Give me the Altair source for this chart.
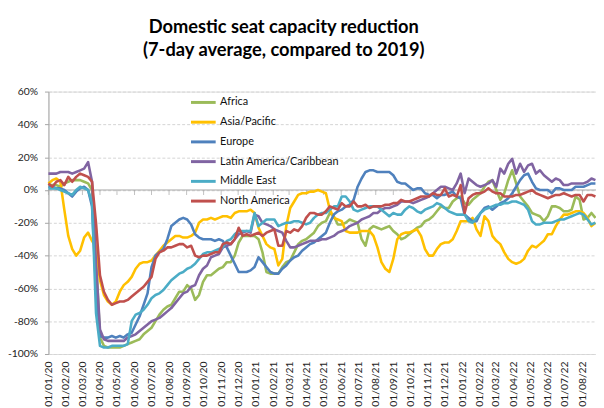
import altair as alt
import pandas as pd

series_names = ["Africa", "Asia/Pacific", "Europe", "Latin America/Caribbean", "Middle East", "North America"]
series_colors = ["#9BBB59", "#FFC000", "#4F81BD", "#8064A2", "#4BACC6", "#C0504D"]

# weekly observation dates (7-day average), 2020-01-01 .. 2022-08-24
dates = [d.strftime("%Y-%m-%d") for d in pd.date_range("2020-01-01", periods=139, freq="7D")]
# monthly tick positions on the category axis
month_ticks = [d.strftime("%Y-%m-%d") for d in pd.date_range("2020-01-01", "2022-08-01", freq="MS")]
y_ticks = [-100, -80, -60, -40, -20, 0, 20, 40, 60]

africa = [
    3, 3, 3, 2, 4, 5, 6, 6, 6, 5,
    4, 0, -40, -90, -95, -96, -96, -96, -96, -95,
    -94, -93, -92, -91, -88, -86, -84, -80, -76, -73,
    -71, -70, -66, -62, -62, -58, -60, -67, -64, -56,
    -52, -52, -50, -48, -47, -44, -44, -40, -32, -28,
    -28, -28, -28, -30, -38, -50, -51, -51, -51, -47,
    -44, -43, -38, -33, -31, -30, -28, -26, -22, -20,
    -19, -14, -16, -21, -21, -20, -18, -19, -20, -30,
    -34, -24, -22, -23, -24, -23, -22, -25, -27, -30,
    -29, -27, -25, -23, -22, -19, -18, -16, -13, -10,
    -11, -11, -7, -5, -4, -8, -9, -6, -4, -2,
    2, 5, 6, 0, -6, -2, 6, 12, 4, -4,
    -7, -10, -14, -15, -16, -19, -16, -10, -10, -11,
    -13, -13, -12, -4, -6, -18, -17, -14, -17,
]
asia_pacific = [
    4, 6, 7, 5, -12, -28, -36, -40, -37, -29,
    -26, -31, -35, -55, -64, -68, -70, -68, -62, -58,
    -56, -53, -48, -45, -44, -44, -43, -40, -37, -34,
    -32, -30, -28, -28, -29, -29, -28, -26, -20, -18,
    -18, -17, -18, -17, -16, -16, -17, -14, -13, -13,
    -13, -12, -14, -23, -28, -33, -35, -36, -46, -42,
    -22, -11, -7, -3, -2, -2, -1, -1, 0, -1,
    -2, -12, -17, -18, -19, -25, -26, -26, -26, -25,
    -25, -25, -28, -35, -44, -48, -50, -42, -30, -27,
    -26, -26, -25, -24, -28, -36, -40, -40, -36, -33,
    -32, -32, -30, -25, -19, -19, -19, -17, -24, -28,
    -16, -19, -28, -31, -33, -38, -42, -44, -45, -44,
    -42, -37, -34, -35, -33, -31, -27, -27, -22, -18,
    -15, -15, -14, -13, -13, -14, -17, -22, -20,
]
europe = [
    2, 2, 1, 1, 0, -2, -4, -1, 1, 2,
    0, -10, -60, -89, -90, -90, -89, -90, -89, -90,
    -88, -87, -82, -77, -70, -63, -47, -40, -38, -36,
    -30, -22, -20, -18, -17, -18, -21, -27, -29, -30,
    -30, -30, -31, -30, -31, -35, -40, -45, -50, -50,
    -50, -49, -47, -41, -44, -47, -50, -51, -51, -48,
    -46, -43, -41, -40, -37, -35, -33, -32, -30, -28,
    -26, -20, -15, -13, -12, -10, -9, -6, 2, 7,
    11, 12, 12, 11, 11, 11, 11, 9, 5, 4,
    4, 2, 0, 1, 1, -2, -3, -3, -5, -3,
    -3, -2, -1, -4, -5, -15, -17, -19, -19, -14,
    -11, -10, -12, -10, -8, -7, -5, -2, 2, 6,
    9, 10, 5, 1, 0, 0, 0, -2, 1, 1,
    0, 0, 0, 2, 2, 2, 3, 4, 4,
]
latin_america = [
    10, 10, 10, 11, 11, 11, 10, 11, 12, 13,
    17, 5, -45, -85, -91, -92, -92, -92, -92, -92,
    -90, -89, -88, -86, -84, -82, -80, -79, -78, -76,
    -74, -72, -69, -66, -63, -62, -59, -58, -52, -48,
    -46, -41, -40, -39, -35, -34, -33, -30, -27, -26,
    -25, -26, -15, -16, -20, -21, -22, -24, -25, -26,
    -31, -35, -35, -34, -33, -32, -31, -31, -31, -30,
    -30, -29, -28, -26, -25, -24, -22, -21, -20, -18,
    -17, -16, -14, -14, -12, -11, -11, -10, -9, -7,
    -7, -7, -8, -7, -6, -5, -4, -2, 0, 2,
    2, 1, 0, 4, 10, -2, 7, 5, 3, 2,
    3, 4, 6, 2, 13, 10, 16, 19, 10, 16,
    11, 15, 16, 10, 12, 9, 7, 5, 7, 6,
    3, 3, 4, 4, 4, 4, 5, 7, 6,
]
middle_east = [
    1, 1, 1, 0, -1, -2, -3, 0, 2, 1,
    0, -8, -75, -95, -96, -96, -95, -95, -95, -95,
    -94, -80, -76, -75, -73, -70, -66, -64, -63, -61,
    -58, -55, -53, -51, -50, -48, -47, -45, -42, -39,
    -38, -38, -37, -36, -35, -31, -30, -27, -25, -25,
    -25, -25, -14, -22, -20, -18, -18, -18, -22, -21,
    -20, -20, -19, -19, -20, -21, -20, -17, -15, -14,
    -14, -12, -10, -10, -4, -4, -7, -12, -13, -12,
    -11, -10, -10, -10, -12, -14, -16, -14, -15, -15,
    -12, -10, -11, -13, -14, -12, -11, -10, -8, -9,
    -11, -13, -14, -15, -15, -15, -19, -20, -17, -14,
    -12, -11, -10, -9, -9, -8, -8, -7, -7, -8,
    -9, -12, -19, -21, -21, -20, -20, -20, -19, -18,
    -18, -17, -16, -15, -14, -15, -18, -21, -20,
]
north_america = [
    4, 2, 5, 6, 3, 8, 5, 8, 10, 9,
    8, 5, -20, -52, -62, -67, -70, -69, -68, -68,
    -67, -65, -63, -61, -59, -56, -53, -42, -38, -37,
    -35, -35, -34, -33, -33, -35, -34, -40, -41, -40,
    -40, -39, -38, -38, -33, -32, -33, -30, -23, -28,
    -27, -28, -27, -26, -28, -26, -25, -24, -34, -34,
    -25, -26, -24, -25, -22, -17, -14, -14, -15, -15,
    -13, -10, -11, -12, -8, -10, -10, -7, -10, -10,
    -9, -11, -10, -10, -10, -9, -9, -8, -8, -6,
    -7, -7, -6, -5, -4, -4, -4, -2, -3, -3,
    1, -4, -3, -4, 3, -14, -5, -3, -2, -2,
    -1, 1, -1, -2, -2, -4, -4, -4, -3, -3,
    -2, -1, 0, -2, -3, -4, -5, -4, -3, -3,
    -2, -3, -4, -3, -3, -7, -3, -3, -4,
]

values_by_series = [africa, asia_pacific, europe, latin_america, middle_east, north_america]
rows = []
for name, vals in zip(series_names, values_by_series):
    for d, v in zip(dates, vals):
        rows.append({"date": d, "series": name, "value": v})
df = pd.DataFrame(rows)
ticks_df = pd.DataFrame({"date": month_ticks})

FONT = "Lato"
AXIS_GRAY = "#a6a6a6"

x_enc = alt.X(
    "date:T",
    scale=alt.Scale(
        type="utc",
        domain=[alt.DateTime(year=2020, month=1, date=1, utc=True),
                alt.DateTime(year=2022, month=8, date=25, utc=True)],
    ),
    axis=alt.Axis(
        title=None,
        labelExpr="utcFormat(datum.value, '%d/%m/%y')",
        tickCount={"interval": "month", "step": 1},
        labelAngle=270, labelAlign="right", labelBaseline="middle",
        labelPadding=7, labelFlush=False, labelOverlap=False,
        domain=False, ticks=False, grid=False,
        labelFont=FONT, labelFontSize=10.5, labelColor="#222222",
    ),
)

y_scale = alt.Scale(domain=[-100, 60], nice=False, zero=False)
y_axis = alt.Axis(
    title=None, values=y_ticks, labelExpr="datum.value + '%'", labelOverlap=False,
    grid=True, gridColor="#d4d4d4", gridDash=[3, 2], gridWidth=1,
    domain=True, domainColor=AXIS_GRAY, ticks=True, tickColor=AXIS_GRAY, tickSize=4,
    labelPadding=7, labelFont=FONT, labelFontSize=10.5, labelColor="#222222",
)
y_zero = alt.YDatum(0, type="quantitative", scale=y_scale, axis=y_axis)

lines = alt.Chart(df).mark_line(strokeWidth=2.6, strokeJoin="round").encode(
    x=x_enc,
    y=alt.Y("value:Q", scale=y_scale, axis=y_axis),
    color=alt.Color(
        "series:N",
        scale=alt.Scale(domain=series_names, range=series_colors),
        legend=alt.Legend(
            title=None, orient="none", direction="vertical", legendX=143, legendY=-3,
            symbolType="stroke", symbolSize=625, symbolStrokeWidth=3,
            rowPadding=-9.6, labelOffset=3,
            labelFont=FONT, labelFontSize=11, labelColor="#111111",
        ),
    ),
    detail="series:N",
)

zero_rule = alt.Chart(alt.Data(values=[{}])).mark_rule(color=AXIS_GRAY, strokeWidth=1).encode(
    y=y_zero
)

zero_ticks = alt.Chart(ticks_df).mark_tick(
    orient="vertical", size=5, thickness=1, color=AXIS_GRAY, yOffset=2.5
).encode(x=x_enc, y=y_zero)

chart = alt.layer(zero_rule, zero_ticks, lines).properties(
    width=555,
    height=266,
    autosize=alt.AutoSizeParams(type="none"),
    padding={"left": 41, "top": 82, "right": 0, "bottom": 52},
    title=alt.TitleParams(
        text=["Domestic seat capacity reduction", "(7-day average, compared to 2019)"],
        font=FONT, fontSize=18.5, fontWeight="bold", color="#000000",
        anchor="middle", dx=-39, offset=28, lineHeight=23,
    ),
).configure_view(stroke=None).configure(background="white")

chart.save("out.html", embed_options={"renderer": "svg", "actions": False})
